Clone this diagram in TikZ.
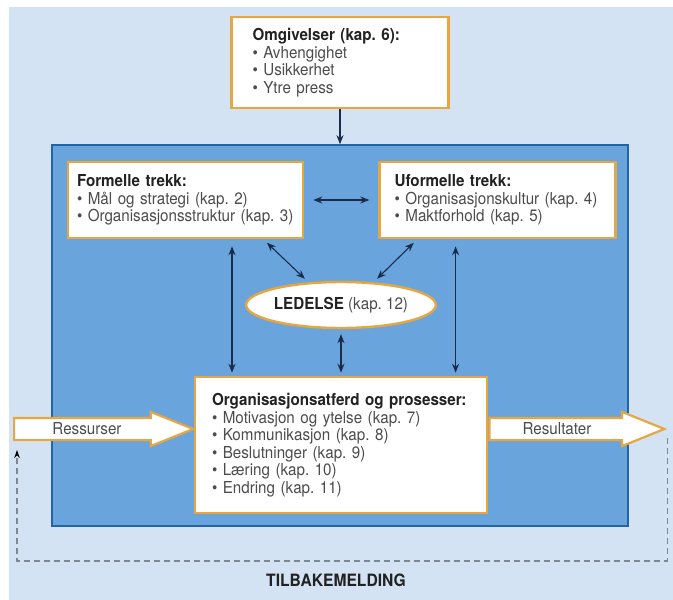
\documentclass[tikz,border=0pt]{standalone}
\usepackage{fontspec}
\setmainfont{TeX Gyre Heros}[FakeStretch=0.92]
\usepackage{xcolor}
\usetikzlibrary{arrows.meta,positioning,shapes.geometric,shapes.arrows,calc}
\definecolor{ink}{HTML}{1A2B4C}
\definecolor{titleink}{HTML}{222222}
\definecolor{textgray}{HTML}{4C4C4C}
\definecolor{paleblue}{HTML}{D4E3F3}
\definecolor{midblue}{HTML}{69A5DC}
\definecolor{deepblue}{HTML}{2065A6}
\definecolor{amber}{HTML}{E8A641}
\definecolor{dashgray}{HTML}{7E8893}
\newcommand\boxhead[1]{\textbf{\color{titleink}#1}}
\newcommand\blt{\textbullet\ }
\frenchspacing

\begin{document}
\begin{tikzpicture}[x=1pt,y=-1pt,
  font=\fontsize{16.5}{17.5}\selectfont\frenchspacing,
  infobox/.style={draw=amber,line width=2.6pt,fill=white,align=left,text=textgray,inner ysep=0pt},
  mainbox/.style={draw=deepblue,line width=1.6pt,fill=midblue,minimum width=576pt,minimum height=381pt},
  lead/.style={ellipse,draw=amber,line width=2.4pt,fill=white,minimum width=178pt,minimum height=46pt,inner sep=0pt,text=textgray},
  flow/.style={single arrow,draw=amber,line width=2.2pt,fill=white,inner xsep=0pt,inner ysep=10pt,single arrow head extend=6pt,single arrow tip angle=44},
  flowtext/.style={text=textgray},
  arr/.style={{Stealth[length=9pt,width=7pt]}-{Stealth[length=9pt,width=7pt]},line width=1.1pt,draw=ink},
  arrone/.style={-{Stealth[length=9pt,width=7pt]},line width=1.1pt,draw=ink},
  fb/.style={-{Stealth[length=8pt,width=5.5pt,color=black]},dash pattern=on 6pt off 4pt,line width=1.3pt,draw=dashgray}
]
\useasboundingbox (0,0) rectangle (673,600);
\fill[paleblue] (9,7) rectangle (673,600);

\node[mainbox] (main) at (340,335.5) {};
\node[infobox,minimum width=217pt,minimum height=91pt,inner xsep=21pt,text width=175pt] (omg) at (340,62.5)
  {\boxhead{Omgivelser (kap. 6):}\\ \blt Avhengighet\\ \blt Usikkerhet\\ \blt Ytre press};
\node[infobox,minimum width=235pt,minimum height=76pt,inner xsep=9pt,text width=217pt] (formal) at (185.5,200)
  {\boxhead{Formelle trekk:}\\ \blt Mål og strategi (kap. 2)\\ \blt Organisasjonsstruktur (kap. 3)};
\node[infobox,minimum width=236pt,minimum height=76pt,inner xsep=15pt,text width=206pt,right=74pt of formal] (informal)
  {\boxhead{Uformelle trekk:}\\ \blt Organisasjonskultur (kap. 4)\\ \blt Maktforhold (kap. 5)};
\node[lead] (ledelse) at (341,305) {\boxhead{LEDELSE} (kap. 12)};
\node[infobox,minimum width=292pt,minimum height=136pt,inner xsep=17pt,text width=258pt] (org) at (341,445)
  {\boxhead{Organisasjonsatferd og prosesser:}\\ \blt Motivasjon og ytelse (kap. 7)\\ \blt Kommunikasjon (kap. 8)\\
   \blt Beslutninger (kap. 9)\\ \blt Læring (kap. 10)\\ \blt Endring (kap. 11)};

% inn- og utstrøm
\node[flow,minimum height=179pt,anchor=tail] (ress) at (13,429) {};
\node[flow,minimum height=175pt,anchor=tail] (resu) at (org.east |- ress.tail) {};
\node[flowtext] (resstext) at (87,429) {Ressurser};
\node[flowtext] (resutext) at (557,429) {Resultater};

\draw[arrone] (omg.south) -- (main.north);
\draw[arr,shorten <=9pt,shorten >=9pt] (formal) -- (informal);
\draw[arr,shorten <=5pt,shorten >=5pt] ([xshift=-41pt]formal.south east) -- (ledelse.145);
\draw[arr,shorten <=5pt,shorten >=5pt] ([xshift=39pt]informal.south west) -- (ledelse.35);
\draw[arr,shorten <=7pt,shorten >=3pt] ([xshift=46.5pt]formal.south) -- ([xshift=46.5pt]formal.south |- org.north);
\draw[arr,shorten <=7pt,shorten >=3pt] ([xshift=-42pt]informal.south) -- ([xshift=-42pt]informal.south |- org.north);
\draw[arr,shorten <=5pt,shorten >=3pt] (ledelse.south) -- (org.north);

% tilbakemelding
\coordinate (fbstart) at ([yshift=-9pt]resu.tip);
\coordinate (fbend) at (17,450);
\draw[fb] (fbstart) -- ++(0,123) -| (fbend);
\node[font=\fontsize{17}{18}\selectfont\bfseries,text=titleink] (tilbake) at (336,580) {TILBAKEMELDING};
\end{tikzpicture}
\end{document}
